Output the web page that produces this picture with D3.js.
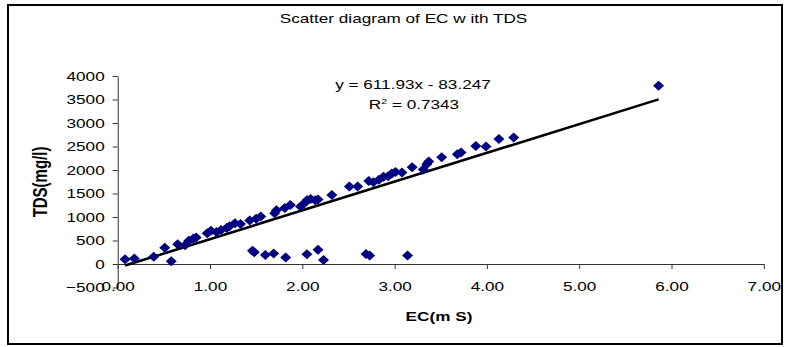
<!DOCTYPE html>
<html>
<head>
<meta charset="utf-8">
<script src="https://cdn.jsdelivr.net/npm/d3@7"></script>
<style>
  html, body { margin: 0; padding: 0; background: #fff; }
  svg { display: block; }
  text { font-family: "Liberation Sans", Arial, sans-serif; fill: #000; }
  .sx { transform-box: fill-box; transform-origin: center; transform: scaleX(1.32); }
  .sxr { transform-box: fill-box; transform-origin: right center; transform: scaleX(1.32); }
</style>
</head>
<body>
<script>
// ---- data ----
const ecMain = [0.08, 0.18, 0.39, 0.51, 0.65, 0.73, 0.77, 0.82, 0.85, 0.97, 1.01, 1.07, 1.12, 1.18, 1.21, 1.27, 1.33, 1.43, 1.50, 1.55, 1.70, 1.72, 1.81, 1.87, 1.98, 2.02, 2.05, 2.09, 2.14, 2.17, 2.32, 2.51, 2.60, 2.72, 2.77, 2.83, 2.88, 2.93, 2.97, 3.01, 3.08, 3.19, 3.31, 3.35, 3.37, 3.51, 3.68, 3.72, 3.88, 3.99, 4.13, 4.29, 5.86];
const tdsMain = [100, 115, 155, 345, 420, 400, 495, 540, 565, 655, 705, 680, 725, 765, 805, 865, 850, 925, 965, 1010, 1080, 1145, 1190, 1255, 1225, 1285, 1355, 1385, 1355, 1375, 1470, 1650, 1650, 1765, 1740, 1795, 1855, 1865, 1925, 1960, 1945, 2060, 2010, 2130, 2180, 2270, 2335, 2370, 2510, 2500, 2660, 2690, 3790];
const ecLow = [0.58, 1.46, 1.48, 1.60, 1.69, 1.82, 2.05, 2.17, 2.23, 2.69, 2.73, 3.14];
const tdsLow = [60, 280, 250, 190, 225, 140, 210, 305, 85, 215, 180, 180];
const trendSlope = 611.93;
const trendIntercept = -83.247;
const xTicks = [0, 1, 2, 3, 4, 5, 6, 7];
const yTicks = [-500, 0, 500, 1000, 1500, 2000, 2500, 3000, 3500, 4000];
const titleText = "Scatter diagram of EC w ith TDS";
const xLabel = "EC(m S)";
const yLabel = "TDS(mg/l)";
const eqText = "y = 611.93x - 83.247";

// ---- chart ----
const W = 787, H = 347;
const svg = d3.select("body").append("svg").attr("width", W).attr("height", H);

svg.append("rect").attr("x", 8).attr("y", 5).attr("width", 774).attr("height", 339)
  .attr("fill", "#fff").attr("stroke", "#000").attr("stroke-width", 2);

const x = d3.scaleLinear().domain([0, 7]).range([117.7, 763.8]);
const y = d3.scaleLinear().domain([-500, 4000]).range([287.5, 76]);

// axes
const yAxis = svg.append("g").attr("transform", `translate(${x(0)},0)`)
  .call(d3.axisLeft(y).tickValues(yTicks).tickFormat(d3.format("d")).tickSize(5).tickPadding(8).tickSizeOuter(0));
const xAxis = svg.append("g").attr("transform", `translate(0,${y(0)})`)
  .call(d3.axisBottom(x).tickValues(xTicks).tickFormat(d3.format(".2f")).tickSize(5).tickPadding(13).tickSizeOuter(0));

[xAxis, yAxis].forEach(g => {
  g.select(".domain").attr("stroke", "#333");
  g.selectAll(".tick line").attr("stroke", "#333");
  g.selectAll(".tick text").style("font-size", "13px").attr("fill", "#000")
    .style("font-family", '"Liberation Sans", Arial, sans-serif');
});
yAxis.selectAll(".tick text").attr("class", "sxr");
xAxis.selectAll(".tick text").attr("class", "sx");

// trendline
const allEc = ecMain.concat(ecLow);
const xr = d3.extent(allEc);
svg.append("line")
  .attr("x1", x(xr[0])).attr("y1", y(trendSlope * xr[0] + trendIntercept))
  .attr("x2", x(xr[1])).attr("y2", y(trendSlope * xr[1] + trendIntercept))
  .attr("stroke", "#000").attr("stroke-width", 2.6);

// points
const pts = ecMain.map((e, i) => ({ ec: e, tds: tdsMain[i] }))
  .concat(ecLow.map((e, i) => ({ ec: e, tds: tdsLow[i] })));
svg.append("g").selectAll("path").data(pts).join("path")
  .attr("d", "M0,-5L5.5,0L0,5L-5.5,0Z")
  .attr("transform", d => `translate(${x(d.ec)},${y(d.tds)})`)
  .attr("fill", "#000080");

// texts
svg.append("text").attr("class", "sx").attr("x", 403.5).attr("y", 23)
  .attr("text-anchor", "middle").style("font-size", "13px").text(titleText);

svg.append("text").attr("class", "sx").attr("x", 413).attr("y", 89)
  .attr("text-anchor", "middle").style("font-size", "13px").text(eqText);

const r2 = svg.append("text").attr("class", "sx").attr("x", 414).attr("y", 109.5)
  .attr("text-anchor", "middle").style("font-size", "13px");
r2.append("tspan").text("R");
r2.append("tspan").attr("dy", -5).style("font-size", "8px").text("2");
r2.append("tspan").attr("dy", 5).text(" = 0.7343");

svg.append("text").attr("class", "sx").attr("x", 439).attr("y", 321)
  .attr("text-anchor", "middle").style("font-size", "13px").style("font-weight", "bold").text(xLabel);

svg.append("text")
  .attr("transform", "translate(47,182) scale(1.32,1) rotate(-90)")
  .attr("text-anchor", "middle").style("font-size", "15px").style("font-weight", "bold").text(yLabel);
</script>
</body>
</html>
